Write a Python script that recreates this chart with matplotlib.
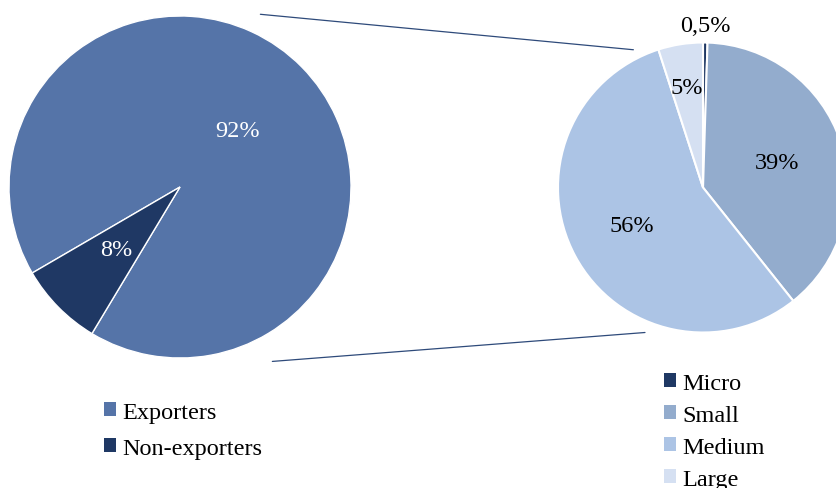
import numpy as np
import matplotlib
matplotlib.use("Agg")
import matplotlib.pyplot as plt
from matplotlib.patches import ConnectionPatch

plt.rcParams['font.family'] = ['Liberation Serif', 'DejaVu Serif']

# data
exp_labels = ['Exporters', 'Non-exporters']
exp_values = [92, 8]
exp_text = ['92%', '8%']

size_labels = ['Micro', 'Small', 'Medium', 'Large']
size_values = [0.5, 39, 56, 5]
size_text = ['0,5%', '39%', '56%', '5%']

exp_colors = ['#5574A8', '#1F3864']
size_colors = ['#1F3864', '#93ACCD', '#ACC4E5', '#D5E0F2']

W, H = 837, 489
fig = plt.figure(figsize=(W / 100, H / 100), dpi=100)


def px_axes(cx, cy, r):
    # axes box in figure fraction, from centre/radius in pixels (top-down)
    return fig.add_axes([(cx - r) / W, (H - cy - r) / H, 2 * r / W, 2 * r / H])


ax1 = px_axes(180, 188, 171)
ax2 = px_axes(703, 188.5, 145)

w1, _ = ax1.pie(exp_values, colors=exp_colors, startangle=210.2, counterclock=False,
                wedgeprops=dict(edgecolor='white', linewidth=1))
w2, _ = ax2.pie(size_values, colors=size_colors, startangle=90, counterclock=False,
                wedgeprops=dict(edgecolor='white', linewidth=1.5))
for ax in (ax1, ax2):
    ax.set_xlim(-1, 1)
    ax.set_ylim(-1, 1)
    ax.set_aspect('equal')


def put_labels(ax, wedges, texts, dists, colors):
    for w, t, d, c in zip(wedges, texts, dists, colors):
        mid = np.deg2rad((w.theta1 + w.theta2) / 2)
        ax.text(d * np.cos(mid), d * np.sin(mid), t, ha='center', va='center',
                fontsize=17.5, color=c, clip_on=False)


put_labels(ax1, w1, exp_text, [0.47, 0.52], ['white', 'white'])
put_labels(ax2, w2, size_text, [1.12, 0.54, 0.56, 0.70], ['black'] * 4)

# connector lines between the two pies
for a, b in [((0.47, 1.01), (-0.48, 0.95)), ((0.54, -1.02), (-0.40, -1.0))]:
    con = ConnectionPatch(xyA=a, coordsA=ax1.transData, xyB=b, coordsB=ax2.transData,
                          color='#2E4A7A', linewidth=0.9)
    fig.add_artist(con)

leg1 = fig.legend(w1, exp_labels, loc='upper left', bbox_to_anchor=(104 / W, 1 - 403 / H),
                  frameon=False, fontsize=17.5, handlelength=0.5, handleheight=0.5,
                  handletextpad=0.25, labelspacing=0.6, borderpad=0, borderaxespad=0)
leg2 = fig.legend(w2, size_labels, loc='upper left', bbox_to_anchor=(664 / W, 1 - 374 / H),
                  frameon=False, fontsize=17.5, handlelength=0.5, handleheight=0.5,
                  handletextpad=0.25, labelspacing=0.45, borderpad=0, borderaxespad=0)
for leg in (leg1, leg2):
    for h in leg.legend_handles:
        h.set_edgecolor('none')

fig.savefig('out.png', dpi=100)
